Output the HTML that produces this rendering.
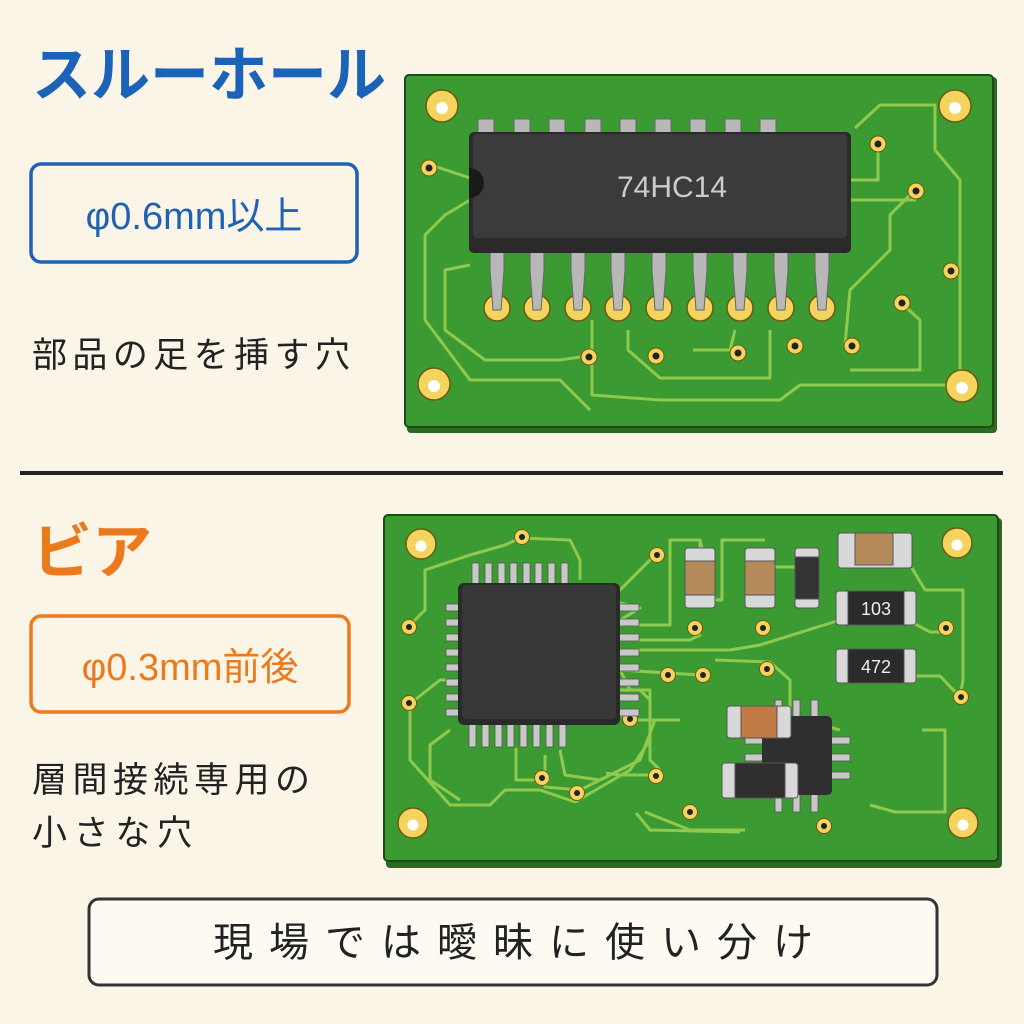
<!DOCTYPE html>
<html><head><meta charset="utf-8"><style>
html,body{margin:0;padding:0;background:#fbf5e8;}
svg{display:block}
text{font-family:"Liberation Sans","Noto Sans CJK JP",sans-serif;}
</style></head><body>
<svg width="1024" height="1024" viewBox="0 0 1024 1024" xmlns="http://www.w3.org/2000/svg">
<rect width="1024" height="1024" fill="#fbf5e8"/>
<!-- LEFT TEXT -->
<text x="32" y="96" font-size="60" font-weight="bold" fill="#1b63b8" textLength="354" lengthAdjust="spacingAndGlyphs">スルーホール</text>
<rect x="31" y="164" width="326" height="98" rx="10" fill="none" stroke="#1f62b5" stroke-width="3.5"/>
<text x="194" y="229" font-size="38" fill="#1f62b5" text-anchor="middle">φ0.6mm以上</text>
<text x="32" y="367" font-size="35" fill="#222" textLength="318" lengthAdjust="spacing">部品の足を挿す穴</text>
<line x1="20" y1="473" x2="1003" y2="473" stroke="#222" stroke-width="4"/>
<text x="32" y="573" font-size="60" font-weight="bold" fill="#ec7a1c">ビア</text>
<rect x="31" y="616" width="318" height="96" rx="10" fill="none" stroke="#ec7a1c" stroke-width="3.5"/>
<text x="190" y="680" font-size="38" fill="#ec7a1c" text-anchor="middle">φ0.3mm前後</text>
<text x="32" y="792" font-size="35" fill="#222" textLength="278" lengthAdjust="spacing">層間接続専用の</text>
<text x="32" y="845" font-size="35" fill="#222" textLength="160" lengthAdjust="spacing">小さな穴</text>
<rect x="89" y="899" width="848" height="86" rx="10" fill="#fdfaf2" stroke="#333" stroke-width="3"/>
<text x="513" y="956" font-size="40" fill="#222" text-anchor="middle" textLength="600" lengthAdjust="spacing">現場では曖昧に使い分け</text>

<!-- TOP PCB -->
<rect x="407" y="77" width="590" height="356" rx="4" fill="#2c6a22"/>
<rect x="405" y="75" width="588" height="352" rx="4" fill="#3c9a32" stroke="#1d4a18" stroke-width="2"/>
<g fill="none" stroke="#8fc94e" stroke-width="3" stroke-linejoin="round">
<path d="M437 167 L470 178"/>
<path d="M470 200 L445 215 L425 235 L425 320 L470 380 L560 380 L590 410"/>
<path d="M470 265 L445 270 L445 330 L485 360 L560 360 L580 357"/>
<path d="M592 320 L592 395 L660 400 L780 400 L800 385 L955 385"/>
<path d="M628 330 L628 350 L660 378 L770 378 L770 330"/>
<path d="M693 350 L730 350 L735 330"/>
<path d="M850 180 L878 180 L878 145"/>
<path d="M850 200 L915 200 L915 190"/>
<path d="M790 350 L790 340"/>
<path d="M855 128 L880 105 L935 105 L935 150 L960 180 L960 380"/>
<path d="M845 345 L850 290 L890 250 L890 215 L915 190"/>
<path d="M900 302 L920 320 L920 370 L850 370"/>
</g>
<g fill="#f4d35e" stroke="#6b5a10" stroke-width="1.5">
<circle cx="442" cy="106" r="16"/><circle cx="955" cy="106" r="16"/>
<circle cx="434" cy="384" r="16"/><circle cx="962" cy="386" r="16"/>
</g>
<g fill="#fff"><circle cx="442" cy="108" r="6"/><circle cx="955" cy="108" r="6"/><circle cx="434" cy="386" r="6"/><circle cx="962" cy="388" r="6"/></g>
<g fill="#f4d35e" stroke="#6b5a10" stroke-width="1">
<circle cx="429" cy="168" r="8"/><circle cx="878" cy="144" r="8"/><circle cx="916" cy="191" r="8"/>
<circle cx="951" cy="271" r="8"/><circle cx="902" cy="303" r="8"/><circle cx="795" cy="346" r="8"/>
<circle cx="589" cy="357" r="8"/><circle cx="656" cy="356" r="8"/><circle cx="738" cy="353" r="8"/><circle cx="852" cy="346" r="8"/>
</g>
<g fill="#222"><circle cx="429" cy="168" r="3.5"/><circle cx="878" cy="144" r="3.5"/><circle cx="916" cy="191" r="3.5"/><circle cx="951" cy="271" r="3.5"/><circle cx="902" cy="303" r="3.5"/><circle cx="795" cy="346" r="3.5"/><circle cx="589" cy="357" r="3.5"/><circle cx="656" cy="356" r="3.5"/><circle cx="738" cy="353" r="3.5"/><circle cx="852" cy="346" r="3.5"/></g>
<g>
<g fill="#f4d35e" stroke="#6b5a10" stroke-width="1.5">
<circle cx="497" cy="308" r="13"/><circle cx="537" cy="308" r="13"/><circle cx="578" cy="308" r="13"/><circle cx="618" cy="308" r="13"/><circle cx="659" cy="308" r="13"/><circle cx="700" cy="308" r="13"/><circle cx="740" cy="308" r="13"/><circle cx="781" cy="308" r="13"/><circle cx="822" cy="308" r="13"/>
</g>
<g fill="#b8b8b8" stroke="#666" stroke-width="1">
<path d="M490 245 h14 v25 l-3 40 h-8 l-3-40z"/><path d="M530 245 h14 v25 l-3 40 h-8 l-3-40z"/><path d="M571 245 h14 v25 l-3 40 h-8 l-3-40z"/><path d="M611 245 h14 v25 l-3 40 h-8 l-3-40z"/><path d="M652 245 h14 v25 l-3 40 h-8 l-3-40z"/><path d="M693 245 h14 v25 l-3 40 h-8 l-3-40z"/><path d="M733 245 h14 v25 l-3 40 h-8 l-3-40z"/><path d="M774 245 h14 v25 l-3 40 h-8 l-3-40z"/><path d="M815 245 h14 v25 l-3 40 h-8 l-3-40z"/>
<rect x="478" y="119" width="16" height="14"/><rect x="514" y="119" width="16" height="14"/><rect x="549" y="119" width="16" height="14"/><rect x="585" y="119" width="16" height="14"/><rect x="620" y="119" width="16" height="14"/><rect x="655" y="119" width="16" height="14"/><rect x="690" y="119" width="16" height="14"/><rect x="725" y="119" width="16" height="14"/><rect x="760" y="119" width="16" height="14"/>
</g>
<rect x="469" y="132" width="382" height="121" rx="5" fill="#2a2a2a"/>
<rect x="473" y="134" width="374" height="104" rx="4" fill="#3b3b3b"/>
<path d="M469 168 a12 12 0 0 1 0 30" fill="#1a1a1a"/>
<text x="672" y="197" font-size="30" fill="#ccc" text-anchor="middle">74HC14</text>
</g>

<!-- BOTTOM PCB -->
<rect x="386" y="518" width="616" height="350" rx="4" fill="#2c6a22"/>
<rect x="384" y="515" width="614" height="346" rx="4" fill="#3c9a32" stroke="#1d4a18" stroke-width="2"/>
<g fill="none" stroke="#8fc94e" stroke-width="3" stroke-linejoin="round">
<path d="M410 625 L425 610 L425 570 L470 555 L505 545 L520 538 L570 540 L580 560 L580 580"/>
<path d="M411 703 L440 680 L450 680"/>
<path d="M410 705 L410 760 L450 805 L490 805 L505 790 L540 790 L575 802 L630 770 L650 740 L650 690 L630 690 L620 670"/>
<path d="M450 730 L430 745 L430 780 L460 800"/>
<path d="M516 748 L516 780 L550 780"/>
<path d="M545 755 L545 787 L580 790 L610 775"/>
<path d="M560 750 L565 775 L600 780 L640 760 L655 720 L640 720"/>
<path d="M606 773 L620 775 L657 775"/>
<path d="M617 622 L640 608 L608 600 L610 590"/>
<path d="M655 555 L610 600"/>
<path d="M620 625 L670 625 L670 540 L700 540"/>
<path d="M620 640 L690 640 L700 635 L690 625"/>
<path d="M620 650 L730 650 L760 645 L840 620"/>
<path d="M620 670 L700 675"/>
<path d="M620 690 L640 690 L650 700 L650 760 L660 770"/>
<path d="M620 715 L630 720 L665 720 L680 720"/>
<path d="M702 548 L700 540 L700 600 L722 600 L722 540 L765 540"/>
<path d="M773 567 L795 567"/>
<path d="M715 660 L770 662 L790 680 L790 725 L822 725 L840 730"/>
<path d="M912 568 L925 590 L963 590 L963 680 L960 697"/>
<path d="M915 624 L930 632 L945 632"/>
<path d="M915 676 L940 676 L960 697"/>
<path d="M922 730 L945 730 L945 812 L895 812 L870 805"/>
<path d="M790 778 L835 778"/>
<path d="M636 813 L650 830 L740 832"/>
<path d="M645 812 L690 830 L745 830"/>
</g>
<g fill="#f4d35e" stroke="#6b5a10" stroke-width="1.5">
<circle cx="421" cy="544" r="15"/><circle cx="957" cy="543" r="15"/>
<circle cx="413" cy="823" r="15"/><circle cx="963" cy="823" r="15"/>
</g>
<g fill="#fff"><circle cx="421" cy="546" r="5.5"/><circle cx="957" cy="545" r="5.5"/><circle cx="413" cy="825" r="5.5"/><circle cx="963" cy="825" r="5.5"/></g>
<g fill="#f4d35e" stroke="#6b5a10" stroke-width="1">
<circle cx="522" cy="537" r="7.5"/><circle cx="657" cy="555" r="7.5"/><circle cx="409" cy="627" r="7.5"/><circle cx="409" cy="703" r="7.5"/>
<circle cx="695" cy="628" r="7.5"/><circle cx="763" cy="628" r="7.5"/><circle cx="946" cy="628" r="7.5"/>
<circle cx="668" cy="675" r="7.5"/><circle cx="703" cy="675" r="7.5"/><circle cx="767" cy="669" r="7.5"/><circle cx="961" cy="697" r="7.5"/>
<circle cx="630" cy="719" r="7.5"/><circle cx="542" cy="778" r="7.5"/><circle cx="656" cy="776" r="7.5"/>
<circle cx="577" cy="793" r="7.5"/><circle cx="690" cy="812" r="7.5"/><circle cx="824" cy="826" r="7.5"/>
</g>
<g fill="#222"><circle cx="522" cy="537" r="3"/><circle cx="657" cy="555" r="3"/><circle cx="409" cy="627" r="3"/><circle cx="409" cy="703" r="3"/><circle cx="695" cy="628" r="3"/><circle cx="763" cy="628" r="3"/><circle cx="946" cy="628" r="3"/><circle cx="668" cy="675" r="3"/><circle cx="703" cy="675" r="3"/><circle cx="767" cy="669" r="3"/><circle cx="961" cy="697" r="3"/><circle cx="630" cy="719" r="3"/><circle cx="542" cy="778" r="3"/><circle cx="656" cy="776" r="3"/><circle cx="577" cy="793" r="3"/><circle cx="690" cy="812" r="3"/><circle cx="824" cy="826" r="3"/></g>
<g fill="#c8c8c8" stroke="#555" stroke-width="0.8">
<rect x="472" y="563" width="7" height="21"/><rect x="485" y="563" width="7" height="21"/><rect x="498" y="563" width="7" height="21"/><rect x="510" y="563" width="7" height="21"/><rect x="523" y="563" width="7" height="21"/><rect x="535" y="563" width="7" height="21"/><rect x="548" y="563" width="7" height="21"/><rect x="561" y="563" width="7" height="21"/>
<rect x="469" y="723" width="7" height="24"/><rect x="482" y="723" width="7" height="24"/><rect x="495" y="723" width="7" height="24"/><rect x="507" y="723" width="7" height="24"/><rect x="520" y="723" width="7" height="24"/><rect x="533" y="723" width="7" height="24"/><rect x="546" y="723" width="7" height="24"/><rect x="559" y="723" width="7" height="24"/>
<rect x="446" y="604" width="22" height="7"/><rect x="446" y="619" width="22" height="7"/><rect x="446" y="634" width="22" height="7"/><rect x="446" y="649" width="22" height="7"/><rect x="446" y="664" width="22" height="7"/><rect x="446" y="679" width="22" height="7"/><rect x="446" y="694" width="22" height="7"/><rect x="446" y="709" width="22" height="7"/>
<rect x="617" y="604" width="22" height="7"/><rect x="617" y="619" width="22" height="7"/><rect x="617" y="634" width="22" height="7"/><rect x="617" y="649" width="22" height="7"/><rect x="617" y="664" width="22" height="7"/><rect x="617" y="679" width="22" height="7"/><rect x="617" y="694" width="22" height="7"/><rect x="617" y="709" width="22" height="7"/>
</g>
<rect x="458" y="583" width="162" height="142" rx="6" fill="#2a2a2a"/>
<rect x="462" y="585" width="154" height="134" rx="5" fill="#383838"/>
<g fill="#c8c8c8" stroke="#555" stroke-width="0.8">
<rect x="775" y="700" width="7" height="18"/><rect x="793" y="700" width="7" height="18"/><rect x="811" y="700" width="7" height="18"/>
<rect x="775" y="792" width="7" height="20"/><rect x="793" y="792" width="7" height="20"/><rect x="811" y="792" width="7" height="20"/>
<rect x="745" y="737" width="20" height="7"/><rect x="745" y="754" width="20" height="7"/><rect x="745" y="772" width="20" height="7"/>
<rect x="830" y="737" width="20" height="7"/><rect x="830" y="754" width="20" height="7"/><rect x="830" y="772" width="20" height="7"/>
</g>
<rect x="762" y="716" width="70" height="79" rx="5" fill="#2f2f2f"/>
<g stroke="#555" stroke-width="1">
<rect x="685" y="548" width="30" height="60" rx="3" fill="#d8d8d8"/><rect x="685" y="561" width="30" height="34" fill="#b58a5a"/>
<rect x="745" y="548" width="30" height="60" rx="3" fill="#d8d8d8"/><rect x="745" y="561" width="30" height="34" fill="#b58a5a"/>
<rect x="795" y="548" width="24" height="60" rx="3" fill="#d8d8d8"/><rect x="795" y="557" width="24" height="42" fill="#333"/>
<rect x="838" y="533" width="74" height="35" rx="3" fill="#d8d8d8"/><rect x="855" y="533" width="38" height="32" fill="#b58a5a"/>
<rect x="836" y="591" width="80" height="34" rx="3" fill="#d8d8d8"/><rect x="848" y="591" width="56" height="34" fill="#2b2b2b"/>
<rect x="836" y="649" width="80" height="34" rx="3" fill="#d8d8d8"/><rect x="848" y="649" width="56" height="34" fill="#2b2b2b"/>
<rect x="727" y="706" width="64" height="32" rx="3" fill="#d8d8d8"/><rect x="741" y="706" width="36" height="32" fill="#c07a45"/>
<rect x="722" y="763" width="76" height="35" rx="3" fill="#d8d8d8"/><rect x="735" y="763" width="50" height="35" fill="#2f2f2f"/>
</g>
<text x="876" y="615" font-size="18" fill="#eee" text-anchor="middle">103</text>
<text x="876" y="673" font-size="18" fill="#eee" text-anchor="middle">472</text>
</svg>
</body></html>
